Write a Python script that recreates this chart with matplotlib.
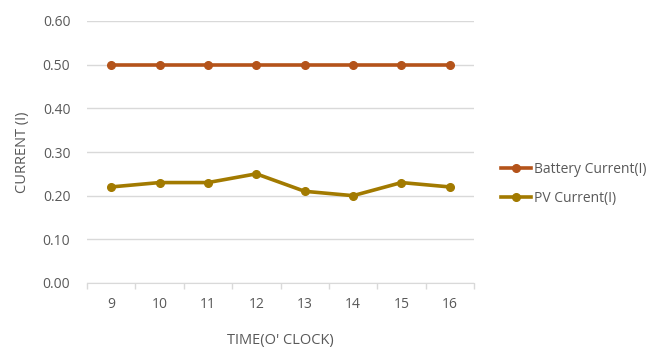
import matplotlib
matplotlib.use("Agg")
import matplotlib.pyplot as plt
import numpy as np

hours = ["9", "10", "11", "12", "13", "14", "15", "16"]
battery_current = [0.50, 0.50, 0.50, 0.50, 0.50, 0.50, 0.50, 0.50]
pv_current = [0.22, 0.23, 0.23, 0.25, 0.21, 0.20, 0.23, 0.22]
y_ticks = [0.00, 0.10, 0.20, 0.30, 0.40, 0.50, 0.60]

plt.rcParams['font.family'] = ['Open Sans', 'DejaVu Sans']
txt = '#595959'
grid = '#D9D9D9'

fig = plt.figure(figsize=(6.49, 3.47), dpi=100)
ax = fig.add_axes([87/649, 1-283/347, (474-87)/649, (283-21)/347])

x = np.arange(len(hours))
ax.plot(x, battery_current, color='#B4531A', lw=2.6, marker='o', ms=5.5, label='Battery Current(I)', zorder=3)
ax.plot(x, pv_current, color='#A27A00', lw=2.6, marker='o', ms=5.5, label='PV Current(I)', zorder=3)

ax.set_xlim(-0.5, len(hours)-0.5)
ax.set_ylim(0, 0.6)
ax.set_yticks(y_ticks)
ax.set_yticklabels([f"{v:.2f}" for v in y_ticks])
ax.set_xticks(x)
ax.set_xticklabels(hours)
ax.set_xticks(np.arange(-0.5, len(hours)), minor=True)
ax.tick_params(axis='x', which='major', length=0, pad=10, labelsize=10, colors=txt)
ax.tick_params(axis='x', which='minor', length=4, color=grid, width=1)
ax.tick_params(axis='y', length=0, pad=12, labelsize=10, colors=txt)
ax.grid(axis='y', color=grid, lw=1)
ax.set_axisbelow(True)
for s in ['top', 'right', 'left']:
    ax.spines[s].set_visible(False)
ax.spines['bottom'].set_color(grid)

ax.set_xlabel("TIME(O' CLOCK)", fontsize=10.5, color=txt, labelpad=15)
ax.set_ylabel("CURRENT (I)", fontsize=10.5, color=txt, labelpad=9)

fig.legend(loc='upper left', bbox_to_anchor=(488/649, 1-149/347), frameon=False,
           fontsize=10, labelcolor=txt, handlelength=2.2, handletextpad=0.2, labelspacing=1.05)

fig.savefig('out.png', dpi=100)
